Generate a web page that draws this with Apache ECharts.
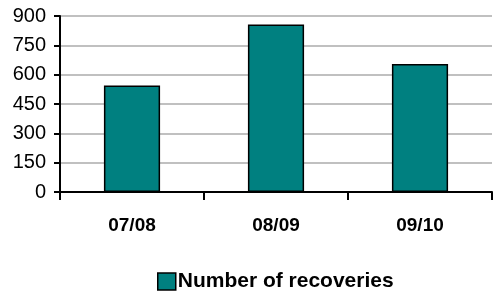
<!DOCTYPE html>
<html><head><meta charset="utf-8">
<script src="https://cdn.jsdelivr.net/npm/echarts@6/dist/echarts.min.js"></script>
<style>html,body{margin:0;padding:0;background:#fff}#c{width:494px;height:300px}</style>
</head><body><div id="c"></div>
<script>
var categories = ['07/08', '08/09', '09/10'];
var recoveries = [545, 857, 655];
var seriesName = 'Number of recoveries';
var yTicks = [0, 150, 300, 450, 600, 750, 900];

var chart = echarts.init(document.getElementById('c'), null, {renderer: 'canvas'});
chart.setOption({
  animation: false,
  backgroundColor: '#fff',
  textStyle: {fontFamily: 'Liberation Sans, Arial, sans-serif'},
  grid: {left: 60, right: 2, top: 16, bottom: 108, containLabel: false},
  legend: {
    data: [seriesName], bottom: 3, left: 152, itemWidth: 18, itemHeight: 17, itemGap: 2,
    icon: 'rect',
    itemStyle: {borderColor: '#000', borderWidth: 1.5},
    textStyle: {fontSize: 21, fontWeight: 'bold', color: '#000', padding: [0,0,0,-3]}
  },
  xAxis: {
    type: 'category', data: categories,
    axisLine: {lineStyle: {color: '#000', width: 2}},
    axisTick: {show: true, alignWithLabel: false, length: 8, lineStyle: {color: '#000', width: 2}},
    axisLabel: {fontSize: 19, fontWeight: 'bold', color: '#000', margin: 24}
  },
  yAxis: {
    type: 'value', min: yTicks[0], max: yTicks[yTicks.length-1], interval: 150,
    axisLine: {show: true, lineStyle: {color: '#000', width: 2}},
    axisTick: {show: true, length: 6, lineStyle: {color: '#000', width: 2}},
    axisLabel: {fontSize: 20, color: '#000', margin: 14},
    splitLine: {lineStyle: {color: '#c0c0c0', width: 2}}
  },
  series: [{
    name: seriesName, type: 'bar', data: recoveries, barWidth: '39%',
    itemStyle: {color: '#008080', borderColor: '#000', borderWidth: 1.5}
  }]
});
</script></body></html>
